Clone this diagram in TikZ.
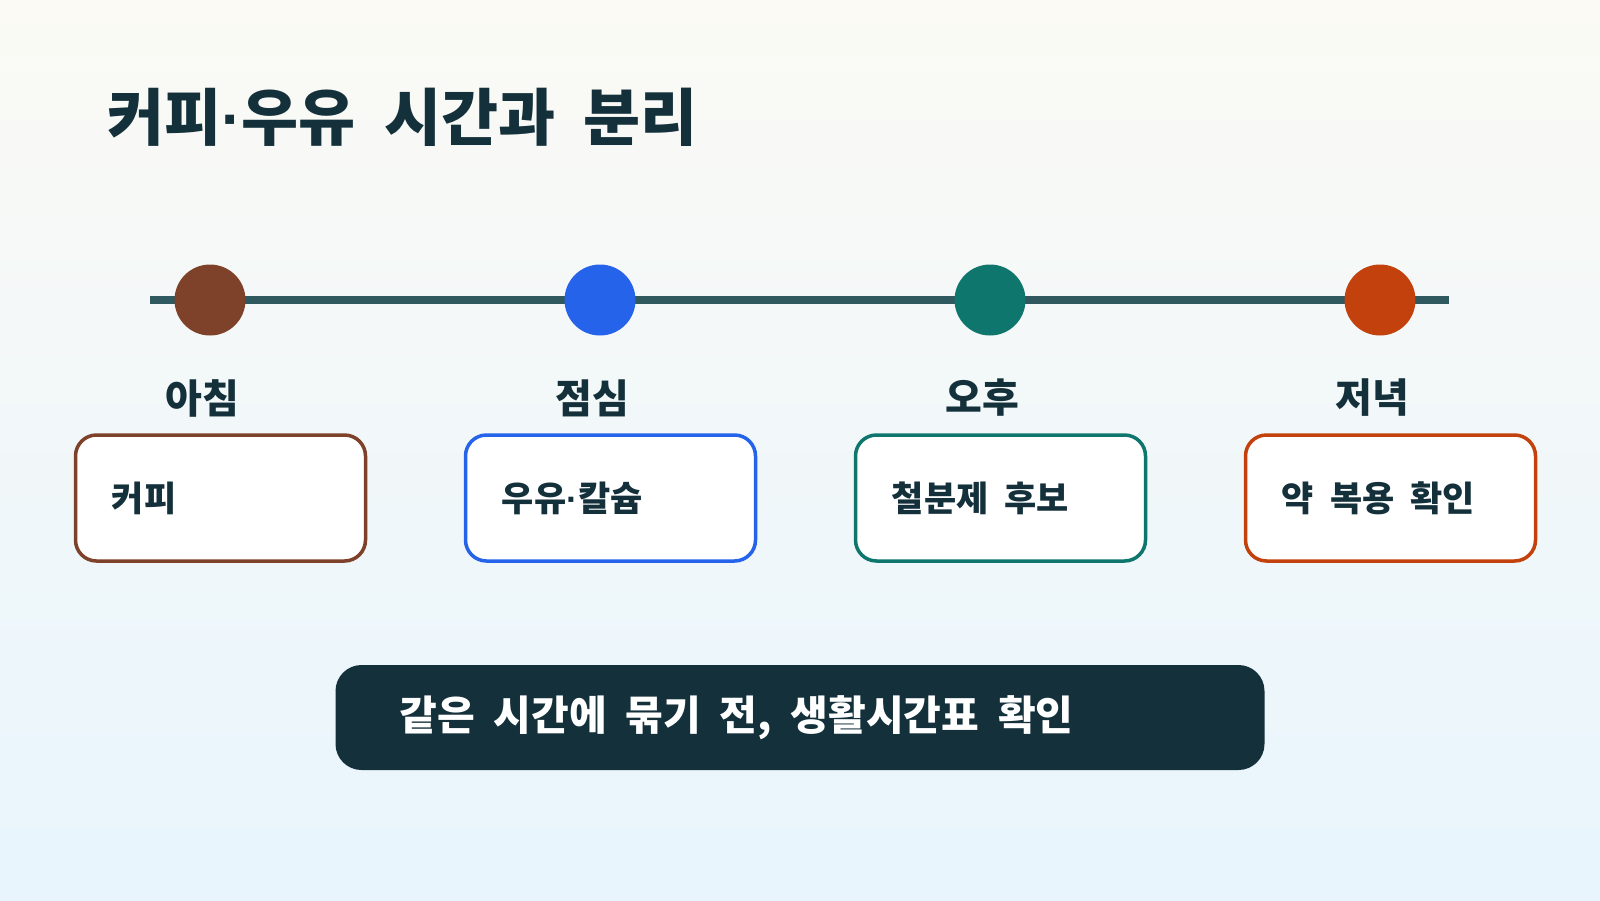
\documentclass[tikz,border=0pt]{standalone}
\usepackage{fontspec}
\setmainfont{Noto Sans CJK KR}[WordSpace=2]
\newfontfamily\dotfont{Liberation Sans}
\newcommand{\mdot}{{\dotfont\bfseries\char"00B7}}
\definecolor{ink}{HTML}{14303A}
\definecolor{linec}{HTML}{30585F}
\definecolor{cbrown}{HTML}{7E4129}
\definecolor{cblue}{HTML}{2563EB}
\definecolor{cteal}{HTML}{0F766E}
\definecolor{corange}{HTML}{C2410C}
\definecolor{bgtop}{HTML}{FBFAF5}
\definecolor{bgbot}{HTML}{E8F5FD}
\tikzset{
  dot/.style={circle, fill=#1, minimum size=71pt, inner sep=0pt, draw=none},
  lbl/.style={font=\bfseries\fontsize{40}{44}\selectfont, text=ink, inner sep=0pt},
  card/.style={draw=#1, line width=3.5pt, fill=white, rounded corners=21pt, minimum width=290pt, minimum height=126pt, inner sep=0pt},
  cardtxt/.style={font=\bfseries\fontsize{35}{40}\selectfont, text=ink, inner sep=0pt, anchor=west},
}
\begin{document}
\begin{tikzpicture}[x=1pt,y=-1pt]
\shade[top color=bgtop, bottom color=bgbot] (0,0) rectangle (1600,900);
\useasboundingbox (0,0) rectangle (1600,900);
\node[anchor=west, inner sep=0pt, text=ink, font=\bfseries\fontsize{62}{70}\selectfont] (title) at (107,117) {커피\mdot 우유 시간과 분리};
\coordinate (ls) at (150,300);
\coordinate (le) at (1449,300);
\draw[linec, line width=8pt] (ls) -- (le);
\node[dot=cbrown] (d1) at (210,300) {};
\node[dot=cblue] (d2) at (600,300) {};
\node[dot=corange] (d4) at (1380,300) {};
\node[dot=cteal] (d3) at (990,300) {};
\node[lbl] (l1) at (202,398) {아침};
\node[lbl] (l2) at (592,398) {점심};
\node[lbl] (l3) at (982,398) {오후};
\node[lbl] (l4) at (1372,398) {저녁};
\node[card=cbrown] (b1) at (220.5,498) {};
\node[card=cblue] (b2) at (610.5,498) {};
\node[card=cteal] (b3) at (1000.5,498) {};
\node[card=corange] (b4) at (1390.5,498) {};
\node[cardtxt] (t1) at ([xshift=38pt]b1.west) {커피};
\node[cardtxt] (t2) at ([xshift=38pt]b2.west) {우유\mdot 칼슘};
\node[cardtxt] (t3) at ([xshift=38pt]b3.west) {철분제 후보};
\node[cardtxt] (t4) at ([xshift=38pt]b4.west) {약 복용 확인};
\node[fill=ink, rounded corners=26pt, minimum width=929pt, minimum height=105pt, inner sep=0pt] (banner) at (800,717.5) {};
\node[anchor=west, inner sep=0pt, text=white, font=\bfseries\fontsize{41}{46}\selectfont] (bt) at ([xshift=64pt]banner.west) {같은 시간에 묶기 전, 생활시간표 확인};
\end{tikzpicture}
\end{document}
